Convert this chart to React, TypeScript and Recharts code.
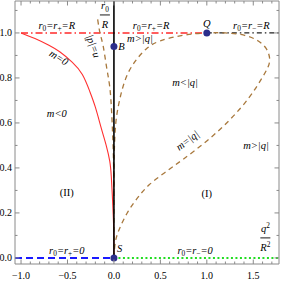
import React from 'react';
import { ComposedChart, Line, XAxis, YAxis, ReferenceDot } from 'recharts';

const X_DOMAIN = [-1.065, 1.777];
const Y_DOMAIN = [-0.027, 1.142];

// frame ticks (minor every 0.1, labelled majors)
const xTicks = [-1.0, -0.9, -0.8, -0.7, -0.6, -0.5, -0.4, -0.3, -0.2, -0.1, 0.0, 0.1, 0.2, 0.3, 0.4, 0.5, 0.6, 0.7, 0.8, 0.9, 1.0, 1.1, 1.2, 1.3, 1.4, 1.5, 1.6, 1.7];
const xMajor = [-1.0, -0.5, 0.0, 0.5, 1.0, 1.5];
const yTicks = [0.0, 0.1, 0.2, 0.3, 0.4, 0.5, 0.6, 0.7, 0.8, 0.9, 1.0, 1.1];
const yMajor = [0.0, 0.2, 0.4, 0.6, 0.8, 1.0];

// straight boundaries
const outerHorizon = [{ x: -1.0, y: 1.0 }, { x: 1.0, y: 1.0 }];
const innerHorizon = [{ x: 1.0, y: 1.0 }, { x: 1.777, y: 1.0 }];
const zeroPlus = [{ x: -1.065, y: 0.0 }, { x: 0.0, y: 0.0 }];
const zeroMinus = [{ x: 0.0, y: 0.0 }, { x: 1.777, y: 0.0 }];
const vertical = [{ x: 0.0, y: 0.0 }, { x: 0.0, y: 1.142 }];

// m = 0 (red)
const massZero = [
  { x: -1.0, y: 1.0 }, { x: -0.85, y: 0.975 }, { x: -0.7, y: 0.945 }, { x: -0.58, y: 0.915 },
  { x: -0.45, y: 0.87 }, { x: -0.34, y: 0.815 }, { x: -0.26, y: 0.74 }, { x: -0.2, y: 0.67 },
  { x: -0.135, y: 0.575 }, { x: -0.08, y: 0.495 }, { x: -0.045, y: 0.43 }, { x: -0.028, y: 0.36 },
  { x: -0.014, y: 0.25 }, { x: -0.004, y: 0.15 }, { x: 0.0, y: 0.05 }, { x: 0.0, y: 0.0 },
];

// m = |q| (brown loop through Q)
const extremal = [
  { x: 0.0, y: 0.0 }, { x: 0.015, y: 0.07 }, { x: 0.06, y: 0.13 }, { x: 0.15, y: 0.205 },
  { x: 0.26, y: 0.27 }, { x: 0.38, y: 0.325 }, { x: 0.55, y: 0.38 }, { x: 0.75, y: 0.44 },
  { x: 1.0, y: 0.52 }, { x: 1.25, y: 0.615 }, { x: 1.45, y: 0.71 }, { x: 1.58, y: 0.79 },
  { x: 1.66, y: 0.85 }, { x: 1.675, y: 0.89 }, { x: 1.64, y: 0.93 }, { x: 1.55, y: 0.965 },
  { x: 1.4, y: 0.99 }, { x: 1.2, y: 1.0 }, { x: 1.0, y: 1.0 }, { x: 0.75, y: 0.99 },
  { x: 0.5, y: 0.965 }, { x: 0.35, y: 0.93 }, { x: 0.24, y: 0.88 }, { x: 0.15, y: 0.82 },
  { x: 0.09, y: 0.75 }, { x: 0.05, y: 0.68 }, { x: 0.02, y: 0.6 }, { x: 0.006, y: 0.5 },
  { x: 0.0, y: 0.38 }, { x: 0.0, y: 0.2 }, { x: 0.0, y: 0.05 },
];

// |p| = u (brown, left of axis)
const momentum = [
  { x: -0.175, y: 1.06 }, { x: -0.15, y: 1.0 }, { x: -0.115, y: 0.94 }, { x: -0.08, y: 0.85 },
  { x: -0.045, y: 0.76 }, { x: -0.025, y: 0.65 }, { x: -0.012, y: 0.53 }, { x: -0.004, y: 0.42 },
  { x: 0.0, y: 0.3 },
];

const specialPoints = [
  { name: 'S', x: 0.0, y: 0.0 },
  { name: 'B', x: 0.0, y: 0.94 },
  { name: 'Q', x: 1.0, y: 1.0 },
];

const labels = [
  { text: 'r_0=r_+=R', x: -0.615, y: 1.036 },
  { text: 'r_0=r_+=R', x: 0.4, y: 1.036 },
  { text: 'r_0=r_−=R', x: 1.48, y: 1.036 },
  { text: 'm>|q|', x: 0.28, y: 0.978 },
  { text: 'Q', x: 1.0, y: 1.046 },
  { text: 'B', x: 0.08, y: 0.942 },
  { text: 'S', x: 0.06, y: 0.042 },
  { text: '|p|=u', x: -0.216, y: 0.942, angle: 70 },
  { text: 'm=0', x: -0.59, y: 0.893, angle: 32 },
  { text: 'm<0', x: -0.615, y: 0.644 },
  { text: 'm<|q|', x: 0.766, y: 0.782 },
  { text: 'm=|q|', x: 0.787, y: 0.524, angle: -37 },
  { text: 'm>|q|', x: 1.53, y: 0.502 },
  { text: '(I)', x: 1.0, y: 0.289, upright: true },
  { text: '(II)', x: -0.507, y: 0.293, upright: true },
  { text: 'r_0=r_+=0', x: -0.507, y: 0.036 },
  { text: 'r_0=r_−=0', x: 0.874, y: 0.036 },
];

const fractions = [
  { num: 'r_0', den: 'R', x: -0.097, y: 1.08 },
  { num: 'q^2', den: 'R^2', x: 1.63, y: 0.089 },
];

const FONT = '"Liberation Serif", "Times New Roman", serif';
const FRAME = '#8a8a8a';
const BROWN = '#a8783c';
const DOT = '#2c2e8c';

const renderMath = (s: string, fs: number) => {
  const out: React.ReactNode[] = [];
  let i = 0;
  let shift = 0;
  let key = 0;
  while (i < s.length) {
    const c = s[i];
    if ((c === '_' || c === '^') && i + 1 < s.length) {
      const dy = c === '_' ? fs * 0.3 : -fs * 0.38;
      out.push(
        <tspan key={key++} dy={dy - shift} fontSize={fs * 0.7} fontStyle="normal">
          {s[i + 1]}
        </tspan>
      );
      shift = dy;
      i += 2;
    } else {
      let j = i;
      while (j < s.length && s[j] !== '_' && s[j] !== '^') j++;
      out.push(
        <tspan key={key++} dy={-shift}>
          {s.slice(i, j)}
        </tspan>
      );
      shift = 0;
      i = j;
    }
  }
  return out;
};

const near = (v: number, list: number[]) => list.some((m) => Math.abs(m - v) < 1e-9);
const fmt = (v: number) => v.toFixed(1).replace('-', '−');

const FrameTick = (props: any) => {
  const { x, y, payload, side } = props;
  const v = payload.value;
  const horizontal = side === 'bottom' || side === 'top';
  const major = near(v, horizontal ? xMajor : yMajor);
  const len = major ? 4.5 : 2.5;
  if (side === 'bottom') {
    return (
      <g>
        <line x1={x} y1={y} x2={x} y2={y - len} stroke={FRAME} />
        {major && (
          <text x={x} y={y + 15} textAnchor="middle" fontFamily={FONT} fontSize={10} fill="#000">
            {fmt(v)}
          </text>
        )}
      </g>
    );
  }
  if (side === 'top') return <line x1={x} y1={y} x2={x} y2={y + len} stroke={FRAME} />;
  if (side === 'left') {
    return (
      <g>
        <line x1={x} y1={y} x2={x + len} y2={y} stroke={FRAME} />
        {major && (
          <text x={x - 3} y={y + 3.5} textAnchor="end" fontFamily={FONT} fontSize={10} fill="#000">
            {fmt(v)}
          </text>
        )}
      </g>
    );
  }
  return <line x1={x} y1={y} x2={x - len} y2={y} stroke={FRAME} />;
};

const MathLabel = ({ cx, cy, item }: any) => {
  const fs = 10.5;
  return (
    <text
      x={cx}
      y={cy}
      textAnchor="middle"
      dominantBaseline="central"
      fontFamily={FONT}
      fontSize={fs}
      fontStyle={item.upright ? 'normal' : 'italic'}
      fill="#000"
      transform={item.angle ? `rotate(${item.angle} ${cx} ${cy})` : undefined}
    >
      {renderMath(item.text, fs)}
    </text>
  );
};

const Fraction = ({ cx, cy, item }: any) => {
  const fs = 10.5;
  return (
    <g fontFamily={FONT} fontSize={fs} fontStyle="italic" fill="#000">
      <text x={cx} y={cy - 6} textAnchor="middle">
        {renderMath(item.num, fs)}
      </text>
      <line x1={cx - 5} y1={cy} x2={cx + 5} y2={cy} stroke="#000" strokeWidth={0.9} />
      <text x={cx} y={cy + 13} textAnchor="middle">
        {renderMath(item.den, fs)}
      </text>
    </g>
  );
};

const curve = (data: any[], stroke: string, width: number, dash?: string, type: any = 'linear') => (
  <Line
    data={data}
    dataKey="y"
    type={type}
    stroke={stroke}
    strokeWidth={width}
    strokeDasharray={dash}
    dot={false}
    activeDot={false}
    isAnimationActive={false}
  />
);

export default function App() {
  return (
    <div style={{ position: 'absolute', left: 0, top: 0, width: 281, height: 281, background: '#fff' }}>
      <ComposedChart width={281} height={281} margin={{ top: 0, right: 1, bottom: 16, left: 14 }}>
        <XAxis
          type="number"
          dataKey="x"
          domain={X_DOMAIN}
          ticks={xTicks}
          interval={0}
          allowDataOverflow
          height={1}
          tickSize={0}
          tickMargin={0}
          tickLine={false}
          stroke={FRAME}
          tick={(p: any) => <FrameTick {...p} side="bottom" />}
        />
        <XAxis
          xAxisId="top"
          orientation="top"
          type="number"
          dataKey="x"
          domain={X_DOMAIN}
          ticks={xTicks}
          interval={0}
          allowDataOverflow
          height={1}
          tickSize={0}
          tickMargin={0}
          tickLine={false}
          stroke={FRAME}
          tick={(p: any) => <FrameTick {...p} side="top" />}
        />
        <YAxis
          type="number"
          domain={Y_DOMAIN}
          ticks={yTicks}
          interval={0}
          allowDataOverflow
          width={1}
          tickSize={0}
          tickMargin={0}
          tickLine={false}
          stroke={FRAME}
          tick={(p: any) => <FrameTick {...p} side="left" />}
        />
        <YAxis
          yAxisId="right"
          orientation="right"
          type="number"
          domain={Y_DOMAIN}
          ticks={yTicks}
          interval={0}
          allowDataOverflow
          width={1}
          tickSize={0}
          tickMargin={0}
          tickLine={false}
          stroke={FRAME}
          tick={(p: any) => <FrameTick {...p} side="right" />}
        />

        {curve(outerHorizon, '#ff2a2a', 1.5, '7 3 1.5 3')}
        {curve(innerHorizon, '#222', 1.2, '5 3 1.5 3')}
        {curve(zeroPlus, '#1a1aff', 2, '7 4')}
        {curve(zeroMinus, '#22dd22', 2, '2 2.5')}
        {curve(massZero, '#ff3030', 1.1, undefined, 'natural')}
        {curve(extremal, BROWN, 1.3, '5 4', 'natural')}
        {curve(momentum, BROWN, 1.3, '5 4', 'natural')}
        {curve(vertical, '#000', 1.6)}

        {specialPoints.map((p) => (
          <ReferenceDot key={p.name} x={p.x} y={p.y} r={3.5} fill={DOT} stroke="none" />
        ))}
        {labels.map((l, i) => (
          <ReferenceDot key={'l' + i} x={l.x} y={l.y} shape={(props: any) => <MathLabel {...props} item={l} />} />
        ))}
        {fractions.map((f, i) => (
          <ReferenceDot key={'f' + i} x={f.x} y={f.y} shape={(props: any) => <Fraction {...props} item={f} />} />
        ))}
      </ComposedChart>
    </div>
  );
}
